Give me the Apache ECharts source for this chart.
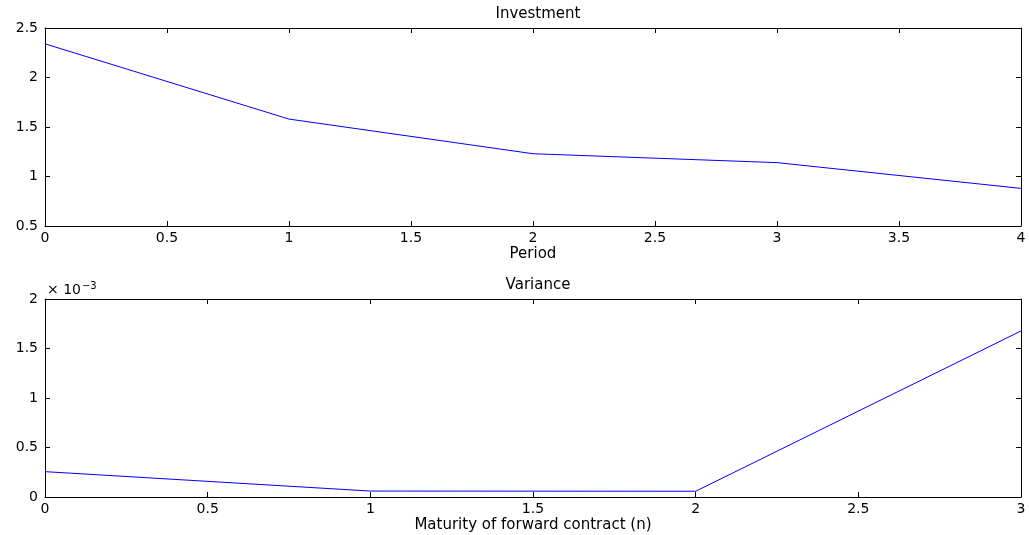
<!DOCTYPE html>
<html>
<head>
<meta charset="utf-8">
<script src="https://cdn.jsdelivr.net/npm/echarts@6/dist/echarts.min.js"></script>
<style>
  html, body { margin: 0; padding: 0; background: #fff; }
  #chart { width: 1029px; height: 535px; }
</style>
</head>
<body>
<div id="chart"></div>
<script>
const periods = [0, 1, 2, 3, 4];
const investment = [2.34, 1.58, 1.23, 1.14, 0.88];
const maturities = [0, 1, 2, 3];
const variance = [0.000256, 0.00006, 0.000058, 0.001677];

const font = 'DejaVu Sans';
const labelStyle = { color: '#000', fontFamily: font, fontSize: 14 };
const line = { show: true, onZero: false, lineStyle: { color: '#000', width: 1 } };
const tick = { show: true, inside: true, length: 5, lineStyle: { color: '#000' } };

function xAx(gridIndex, max, name, pos, show) {
  return {
    type: 'value', gridIndex, position: pos, min: 0, max, interval: 0.5,
    axisLine: line, axisTick: tick, splitLine: { show: false },
    axisLabel: Object.assign({ show, margin: 5 }, labelStyle),
    name: show ? name : '', nameLocation: 'middle', nameGap: 21,
    nameTextStyle: { color: '#000', fontFamily: font, fontSize: 15 }
  };
}
function yAx(gridIndex, min, max, interval, pos, show, fmt) {
  return {
    type: 'value', gridIndex, position: pos, min, max, interval,
    axisLine: line, axisTick: tick, splitLine: { show: false },
    axisLabel: Object.assign({ show, margin: 7, formatter: fmt }, labelStyle)
  };
}

const chart = echarts.init(document.getElementById('chart'), null, { renderer: 'canvas' });
chart.setOption({
  animation: false,
  backgroundColor: '#fff',
  title: [
    { text: 'Investment', left: 533, top: 2, textAlign: 'center',
      textStyle: { fontFamily: font, fontSize: 15, fontWeight: 'normal', color: '#000' } },
    { text: 'Variance', left: 533, top: 273, textAlign: 'center',
      textStyle: { fontFamily: font, fontSize: 15, fontWeight: 'normal', color: '#000' } },
    { text: '× 10{s|−3}', left: 42, top: 276,
      textStyle: { fontFamily: font, fontSize: 14, fontWeight: 'normal', color: '#000',
        rich: { s: { fontFamily: font, fontSize: 10, color: '#000', verticalAlign: 'top', padding: [0, 0, 9, 1] } } } }
  ],
  grid: [
    { left: 45, right: 8, top: 28, height: 198 },
    { left: 45, right: 8, top: 299, height: 198 }
  ],
  xAxis: [
    xAx(0, 4, 'Period', 'bottom', true),
    xAx(0, 4, '', 'top', false),
    xAx(1, 3, 'Maturity of forward contract (n)', 'bottom', true),
    xAx(1, 3, '', 'top', false)
  ],
  yAxis: [
    yAx(0, 0.5, 2.5, 0.5, 'left', true),
    yAx(0, 0.5, 2.5, 0.5, 'right', false),
    yAx(1, 0, 0.002, 0.0005, 'left', true, v => String(+(v * 1000).toFixed(2))),
    yAx(1, 0, 0.002, 0.0005, 'right', false)
  ],
  series: [
    { type: 'line', xAxisIndex: 0, yAxisIndex: 0, showSymbol: false,
      lineStyle: { color: '#0000ff', width: 1 },
      data: periods.map((p, i) => [p, investment[i]]) },
    { type: 'line', xAxisIndex: 2, yAxisIndex: 2, showSymbol: false,
      lineStyle: { color: '#0000ff', width: 1 },
      data: maturities.map((m, i) => [m, variance[i]]) }
  ]
});
</script>
</body>
</html>
